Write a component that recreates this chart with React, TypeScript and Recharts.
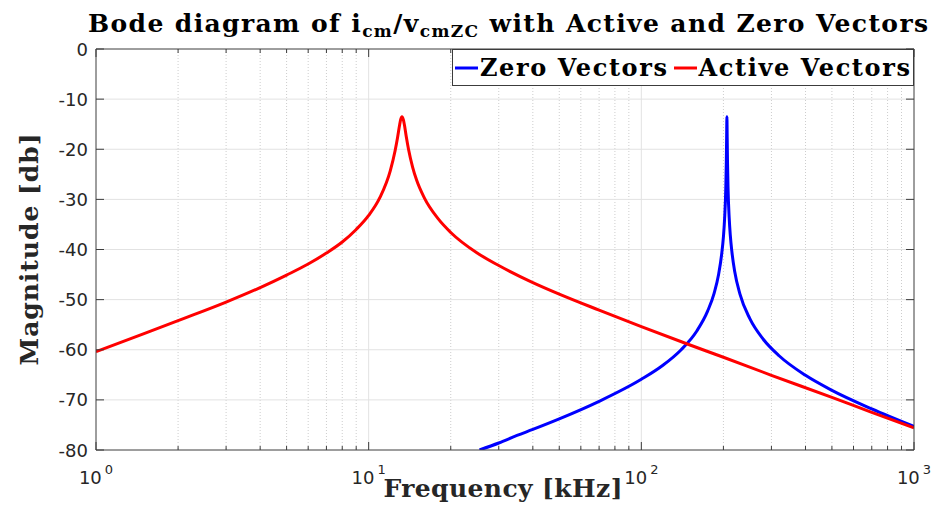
import React from 'react';
import { LineChart, Line, XAxis, YAxis, CartesianGrid, Legend } from 'recharts';

const CHART_W = 938;
const CHART_H = 522;

// Active vectors: frequency [kHz] and magnitude [dB]
const activeFreq = [
  1, 1.5, 2, 3, 4, 5, 6, 7, 8, 9, 10, 11, 12, 12.5, 12.75, 13, 13.1, 13.25, 13.4, 13.5, 13.75,
  14, 14.5, 15, 16, 18, 20, 25, 30, 40, 50, 70, 100, 150, 200, 300, 500, 700, 1000,
];
const activeMag = [
  -60.4, -56.8, -54.2, -50.5, -47.6, -45.1, -42.9, -40.7, -38.5, -36.0, -33.2, -29.6, -24.3, -20.3,
  -17.8, -15.0, -14.1, -13.5, -14.1, -14.9, -17.6, -20.0, -23.6, -26.2, -29.7, -33.9, -36.6, -40.7,
  -43.2, -46.6, -48.9, -52.1, -55.4, -59.0, -61.5, -65.1, -69.5, -72.5, -75.6,
];

// Zero vectors: frequency [kHz] and magnitude [dB]
const zeroFreq = [
  25.5, 30, 35, 40, 50, 70, 100, 120, 140, 160, 175, 185, 192, 197, 200, 202, 204, 205, 205.5, 206,
  206.5, 207, 208, 210, 212, 215, 220, 230, 250, 280, 320, 400, 500, 700, 1000,
];
const zeroMag = [
  -80.0, -78.6, -77.1, -75.9, -73.8, -70.3, -65.9, -63.1, -60.0, -56.2, -52.3, -48.7, -45.0, -41.0,
  -37.5, -33.9, -28.0, -22.4, -17.8, -13.5, -17.8, -22.3, -27.9, -33.7, -37.2, -40.6, -44.4, -48.9,
  -53.8, -57.9, -61.2, -65.1, -68.1, -71.8, -75.3,
];

// Axis ticks
const xTicks = [
  1, 2, 3, 4, 5, 6, 7, 8, 9, 10, 20, 30, 40, 50, 60, 70, 80, 90, 100, 200, 300, 400, 500, 600, 700,
  800, 900, 1000,
];
const xMajor = [1, 10, 100, 1000];
const xMajorExp = ['0', '1', '2', '3'];
const yTicks = [-80, -70, -60, -50, -40, -30, -20, -10, 0];

const seriesNames = ['Zero Vectors', 'Active Vectors'];
const seriesColors = ['#0000ff', '#ff0000'];

const titleParts = ['Bode diagram of i', 'cm', '/v', 'cmZC', ' with Active and Zero Vectors'];
const xLabel = 'Frequency [kHz]';
const yLabel = 'Magnitude [db]';

const zeroData = zeroFreq.map((f, i) => ({ f, mag: zeroMag[i] }));
const activeData = activeFreq.map((f, i) => ({ f, mag: activeMag[i] }));

const xMinorGrid = xTicks.filter((v) => !xMajor.includes(v));
const xMajorGrid = xMajor.slice(1, -1);
const yMajorGrid = yTicks.slice(1, -1);

const AXIS_COLOR = '#3c3c3c';
const TEXT_COLOR = '#262626';
const SANS = '"DejaVu Sans", sans-serif';
const SERIF = '"DejaVu Serif", serif';
const MAJOR_LEN = 8;
const MINOR_LEN = 4;

function BottomTick(props: any) {
  const { x, y, payload } = props;
  const idx = xMajor.indexOf(payload.value);
  const len = idx >= 0 ? MAJOR_LEN : MINOR_LEN;
  return (
    <g>
      <line x1={x} x2={x} y1={y} y2={y - len} stroke={AXIS_COLOR} strokeWidth={1} />
      {idx >= 0 && (
        <text x={x} y={y + 34} textAnchor="middle" fontFamily={SANS} fontSize={18} fill={TEXT_COLOR}>
          10
          <tspan dx={3} dy={-10} fontSize={13}>
            {xMajorExp[idx]}
          </tspan>
        </text>
      )}
    </g>
  );
}

function TopTick(props: any) {
  const { x, y, payload } = props;
  const len = xMajor.includes(payload.value) ? MAJOR_LEN : MINOR_LEN;
  return <line x1={x} x2={x} y1={y} y2={y + len} stroke={AXIS_COLOR} strokeWidth={1} />;
}

function LeftTick(props: any) {
  const { x, y, payload } = props;
  return (
    <g>
      <line x1={x} x2={x + MAJOR_LEN} y1={y} y2={y} stroke={AXIS_COLOR} strokeWidth={1} />
      <text x={x - 8} y={y + 6.5} textAnchor="end" fontFamily={SANS} fontSize={18} fill={TEXT_COLOR}>
        {payload.value}
      </text>
    </g>
  );
}

function RightTick(props: any) {
  const { x, y } = props;
  return <line x1={x} x2={x - MAJOR_LEN} y1={y} y2={y} stroke={AXIS_COLOR} strokeWidth={1} />;
}

function TitleLabel() {
  return (
    <text
      x={88}
      y={32}
      textAnchor="start"
      fontFamily={SERIF}
      fontWeight="bold"
      fontSize={25}
      textLength={840}
      lengthAdjust="spacing"
      fill="#000"
    >
      {titleParts[0]}
      <tspan dy={5} fontSize={17}>{titleParts[1]}</tspan>
      <tspan dy={-5}>{titleParts[2]}</tspan>
      <tspan dy={5} fontSize={17}>{titleParts[3]}</tspan>
      <tspan dy={-5}>{titleParts[4]}</tspan>
    </text>
  );
}

function XTitle(props: any) {
  const vb = props.viewBox || { x: 96, y: 450, width: 818, height: 72 };
  return (
    <text
      x={vb.x + vb.width / 2 - 2}
      y={vb.y + 47}
      textAnchor="middle"
      fontFamily={SERIF}
      fontWeight="bold"
      fontSize={25}
      textLength={239}
      lengthAdjust="spacing"
      fill={TEXT_COLOR}
    >
      {xLabel}
    </text>
  );
}

function YTitle(props: any) {
  const vb = props.viewBox || { x: 0, y: 49, width: 96, height: 401 };
  const cx = 38;
  const cy = vb.y + vb.height / 2;
  return (
    <text
      x={cx}
      y={cy}
      transform={`rotate(-90 ${cx} ${cy})`}
      textAnchor="middle"
      fontFamily={SERIF}
      fontWeight="bold"
      fontSize={25}
      textLength={232}
      lengthAdjust="spacing"
      fill={TEXT_COLOR}
    >
      {yLabel}
    </text>
  );
}

function LegendBox() {
  return (
    <div
      style={{
        boxSizing: 'border-box',
        width: 462,
        height: 37,
        border: `1px solid ${AXIS_COLOR}`,
        background: '#fff',
        display: 'flex',
        alignItems: 'center',
        paddingLeft: 2,
        fontFamily: SERIF,
        fontWeight: 'bold',
        fontSize: 24,
        color: '#000',
        whiteSpace: 'nowrap',
      }}
    >
      {seriesNames.map((name, i) => (
        <div key={name} style={{ display: 'flex', alignItems: 'center', marginLeft: i === 0 ? 0 : 5 }}>
          <svg width={23} height={6} style={{ display: 'block' }}>
            <line x1={0} x2={23} y1={3} y2={3} stroke={seriesColors[i]} strokeWidth={3} />
          </svg>
          <span style={{ marginLeft: 2, lineHeight: '24px', letterSpacing: 1.6 }}>{name}</span>
        </div>
      ))}
    </div>
  );
}

export default function App() {
  return (
    <div style={{ position: 'absolute', left: 0, top: 0, width: CHART_W, height: CHART_H, background: '#fff' }}>
      <LineChart width={CHART_W} height={CHART_H} margin={{ top: 0, right: 0, bottom: 0, left: 0 }}>
        <CartesianGrid
          xAxisId="b"
          yAxisId="l"
          horizontal={false}
          verticalValues={xMinorGrid}
          stroke="#cdcdcd"
          strokeDasharray="1 2"
        />
        <CartesianGrid
          xAxisId="b"
          yAxisId="l"
          verticalValues={xMajorGrid}
          horizontalValues={yMajorGrid}
          stroke="#e2e2e2"
        />
        <XAxis
          xAxisId="b"
          orientation="bottom"
          dataKey="f"
          type="number"
          scale="log"
          domain={[1, 1000]}
          allowDataOverflow
          ticks={xTicks}
          interval={0}
          height={72}
          tickSize={0}
          tickMargin={0}
          tick={<BottomTick />}
          axisLine={{ stroke: AXIS_COLOR, strokeWidth: 1 }}
          label={<XTitle />}
        />
        <XAxis
          xAxisId="t"
          orientation="top"
          dataKey="f"
          type="number"
          scale="log"
          domain={[1, 1000]}
          allowDataOverflow
          ticks={xTicks}
          interval={0}
          height={49}
          tickSize={0}
          tickMargin={0}
          tick={<TopTick />}
          axisLine={{ stroke: AXIS_COLOR, strokeWidth: 1 }}
          label={<TitleLabel />}
        />
        <YAxis
          yAxisId="l"
          orientation="left"
          type="number"
          domain={[-80, 0]}
          allowDataOverflow
          ticks={yTicks}
          interval={0}
          width={96}
          tickSize={0}
          tickMargin={0}
          tick={<LeftTick />}
          axisLine={{ stroke: AXIS_COLOR, strokeWidth: 1 }}
          label={<YTitle />}
        />
        <YAxis
          yAxisId="r"
          orientation="right"
          type="number"
          domain={[-80, 0]}
          allowDataOverflow
          ticks={yTicks}
          interval={0}
          width={24}
          tickSize={0}
          tickMargin={0}
          tick={<RightTick />}
          axisLine={{ stroke: AXIS_COLOR, strokeWidth: 1 }}
        />
        <Line
          xAxisId="b"
          yAxisId="l"
          data={zeroData}
          dataKey="mag"
          name={seriesNames[0]}
          type="monotone"
          stroke={seriesColors[0]}
          strokeWidth={3}
          dot={false}
          activeDot={false}
          isAnimationActive={false}
        />
        <Line
          xAxisId="b"
          yAxisId="l"
          data={activeData}
          dataKey="mag"
          name={seriesNames[1]}
          type="monotone"
          stroke={seriesColors[1]}
          strokeWidth={3}
          dot={false}
          activeDot={false}
          isAnimationActive={false}
        />
        <Legend
          layout="horizontal"
          verticalAlign="middle"
          align="center"
          wrapperStyle={{ position: 'absolute', left: 452, top: 49, width: 462, height: 37 }}
          content={() => <LegendBox />}
        />
      </LineChart>
    </div>
  );
}
